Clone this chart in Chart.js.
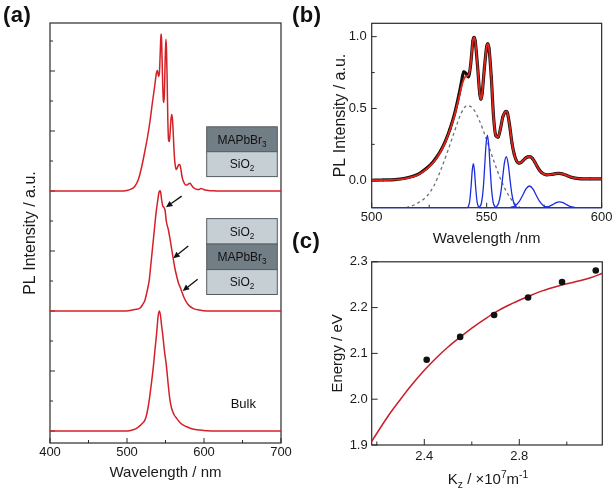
<!DOCTYPE html>
<html>
<head>
<meta charset="utf-8">
<script src="https://cdn.jsdelivr.net/npm/chart.js@4.4.1/dist/chart.umd.min.js"></script>
<style>
  body { margin: 0; background: #fff; }
  #fig { position: relative; width: 614px; height: 494px; font-family: 'Liberation Sans', Arial, sans-serif; }
  #fig canvas { position: absolute; }
  .tag { position: absolute; font-weight: bold; font-size: 22px; line-height: 1; color: #111; letter-spacing: 0.5px; }
</style>
</head>
<body>
<div id="fig">
  <canvas id="chartA" width="300" height="494" style="left:0;top:0"></canvas>
  <canvas id="chartB" width="314" height="250" style="left:300px;top:0"></canvas>
  <canvas id="chartC" width="314" height="244" style="left:300px;top:250px"></canvas>
  <div class="tag" style="left:3px;top:4px">(a)</div>
  <div class="tag" style="left:292px;top:4px">(b)</div>
  <div class="tag" style="left:292px;top:230px">(c)</div>
</div>
<script>
// ---- (a) PL spectra, intensity above each curve's own baseline ----
const topWave = [400,490,500,505,510,515,519,523,527,530,533,536,538,539.5,541,542,543,544,544.5,545,546,547,547.7,548.5,549.5,550.5,551.2,552,553,554,555,556,557,558,559,560,561,562,563,564,565,566,567.5,569,570,571,572,574,576,578,580,581.8,583,585,587,590,593,596,598,601,610,620,700];
const topPL = [0,0,0.02,0.06,0.15,0.4,0.8,1.3,1.85,2.35,2.95,3.5,3.9,4.02,3.82,3.9,4.5,5.15,5.23,5.0,3.9,3.1,2.95,3.2,4.3,5.06,4.8,3.9,2.4,1.7,1.65,1.95,2.35,2.55,2.4,1.95,1.4,1.0,0.8,0.72,0.75,0.82,0.88,0.85,0.72,0.55,0.42,0.28,0.2,0.2,0.24,0.26,0.23,0.15,0.1,0.06,0.05,0.08,0.07,0.03,0.01,0,0];

const midWave = [400,495,504,510,517,520,523.4,526,528.9,531,533.3,535.5,537.7,540,541.5,542.9,543.8,545,546.5,548,549.5,551,553.8,556,558.1,560,562,564.6,567,569,571.1,574,577.6,581,586.3,592,599,610,700];
const midPL = [0,0,0.02,0.05,0.1,0.2,0.37,0.65,1.03,1.55,2.14,2.7,3.26,3.7,3.95,4.01,3.95,3.7,3.5,3.45,3.35,3.0,2.7,2.38,2.05,1.75,1.45,1.15,0.92,0.8,0.65,0.45,0.28,0.17,0.08,0.04,0.01,0,0];

const bulkWave = [400,500,508,512.5,517,520,523.4,526,528.9,531.5,534.2,536.5,538.5,540.3,541.9,543.5,545,546.2,548.5,551.3,553.5,555.8,558,561,564.5,570,577.5,585,595,610,700];
const bulkPL = [0,0,0.04,0.09,0.18,0.26,0.37,0.6,1.03,1.55,2.14,2.75,3.26,3.8,4.0,3.85,3.5,3.26,2.7,2.14,1.55,1.03,0.75,0.55,0.42,0.25,0.14,0.07,0.03,0,0];

const offsetTop = 8, offsetMid = 4, offsetBulk = 0;
const aTicksX = [400, 500, 600, 700];

// ---- (b) measured spectrum, fit and components ----
const bWave = [500,505,510,514,518,520,522,524,526,528,530,532,534,536,538,539,540,541,542,543,544,544.5,545,546,547,547.5,548,549,550,550.5,551,552,553,554,555,556,557,558,558.5,559,560,561,562,563,564,565,566,567,568,569,570,571,572,573,574,576,578,580,581.5,583,585,587,590,595,600];
const bMeasured = [0,0.002,0.005,0.012,0.028,0.04,0.06,0.085,0.115,0.155,0.205,0.27,0.355,0.46,0.6,0.68,0.755,0.745,0.72,0.8,0.97,0.995,0.97,0.8,0.6,0.565,0.6,0.78,0.93,0.95,0.92,0.72,0.44,0.31,0.3,0.36,0.44,0.475,0.48,0.47,0.38,0.26,0.18,0.135,0.12,0.125,0.14,0.155,0.163,0.163,0.15,0.125,0.095,0.07,0.052,0.038,0.04,0.046,0.048,0.044,0.032,0.02,0.012,0.01,0.01];
const bFit = [0,0.001,0.004,0.01,0.025,0.037,0.056,0.08,0.11,0.15,0.2,0.265,0.35,0.45,0.58,0.65,0.7,0.725,0.73,0.8,0.97,0.995,0.97,0.8,0.6,0.565,0.6,0.78,0.93,0.95,0.92,0.72,0.44,0.31,0.3,0.36,0.44,0.475,0.48,0.47,0.38,0.26,0.18,0.135,0.12,0.125,0.14,0.155,0.163,0.163,0.15,0.125,0.095,0.07,0.052,0.038,0.04,0.046,0.048,0.044,0.032,0.02,0.012,0.01,0.01];

const broadWave = [515,518,521,524,527,530,533,536,539,541.5,544,547,550,553,556,559,562,564.5];
const broadPL = [-0.19,-0.175,-0.15,-0.11,-0.04,0.07,0.2,0.34,0.47,0.52,0.5,0.41,0.28,0.14,0.01,-0.09,-0.16,-0.19];

const peak1Wave = [500,541.6,542.0,542.6,543.2,543.7,544.2,544.7,545.2,545.8,546.4,546.8,600];
const peak1PL = [-0.19,-0.19,-0.183,-0.148,-0.047,0.064,0.115,0.064,-0.047,-0.148,-0.183,-0.19,-0.19];
const peak2Wave = [546.6,547.1,547.8,548.5,549.1,549.7,550.3,550.9,551.5,552.1,552.8,553.5,554.0];
const peak2PL = [-0.19,-0.182,-0.152,-0.059,0.088,0.244,0.315,0.244,0.088,-0.059,-0.152,-0.182,-0.19];
const peak3Wave = [553.7,554.3,555.2,556.1,556.9,557.7,558.5,559.3,560.1,560.9,561.8,562.7,563.3];
const peak3PL = [-0.19,-0.183,-0.158,-0.091,0.012,0.119,0.165,0.119,0.012,-0.091,-0.158,-0.183,-0.19];
const peak4Wave = [560,561.1,562.6,564.1,565.6,567.1,568.6,570.1,571.6,573.1,574.6,576.1,577.2];
const peak4PL = [-0.19,-0.186,-0.175,-0.149,-0.106,-0.06,-0.04,-0.06,-0.106,-0.149,-0.175,-0.186,-0.19];
const peak5Wave = [575,575.7,577.2,578.7,580.2,581.7,583.2,584.7,586.2,587.7,588.5];
const peak5PL = [-0.19,-0.187,-0.181,-0.17,-0.156,-0.15,-0.156,-0.17,-0.181,-0.187,-0.19];

const bTicksX = [500, 550, 600];
const bTicksY = [0, 0.5, 1.0];

// ---- (c) energy vs Kz ----
const kz = [2.41, 2.551, 2.694, 2.837, 2.98, 3.122];
const energy = [2.086, 2.136, 2.184, 2.222, 2.256, 2.281];
const fitKz = [2.1785,2.25,2.3,2.35,2.4,2.45,2.5,2.55,2.6,2.65,2.7,2.75,2.8,2.85,2.9,2.95,3.0,3.05,3.1,3.1495];
const fitE = [1.908,1.965,2.0,2.033,2.063,2.09,2.114,2.135,2.155,2.173,2.19,2.204,2.216,2.227,2.237,2.245,2.252,2.258,2.265,2.275];
const cTicksX = [2.4, 2.8];
const cTicksY = [1.9, 2.0, 2.1, 2.2, 2.3];

Chart.defaults.font.family = "'Liberation Sans', Arial, sans-serif";
Chart.defaults.color = '#1a1a1a';
const FONT = "'Liberation Sans', Arial, sans-serif";

function curve(xs, ys, color, width, offset = 0, extra = {}) {
  return Object.assign({
    data: xs.map((x, i) => ({ x: x, y: ys[i] + offset })),
    showLine: true,
    borderColor: color,
    borderWidth: width,
    pointRadius: 0,
    cubicInterpolationMode: 'monotone'
  }, extra);
}

// box round the plot plus inward tick marks (majors and minors)
function frameTicks(t) {
  return {
    id: 'frame',
    beforeDatasetsDraw(chart) {
      const { ctx, chartArea: a, scales: { x, y } } = chart;
      ctx.save();
      ctx.strokeStyle = '#2a2a2a';
      ctx.lineWidth = 1;
      ctx.beginPath();
      const xt = (vals, len) => vals.forEach(v => {
        const p = x.getPixelForValue(v);
        ctx.moveTo(p, a.bottom); ctx.lineTo(p, a.bottom - len);
      });
      const yt = (vals, len) => vals.forEach(v => {
        const p = y.getPixelForValue(v);
        ctx.moveTo(a.left, p); ctx.lineTo(a.left + len, p);
      });
      xt(t.xMajor, t.major); xt(t.xMinor, t.minor);
      yt(t.yMajor, t.major); yt(t.yMinor, t.minor);
      ctx.stroke();
      ctx.lineWidth = 1.2;
      ctx.strokeRect(a.left, a.top, a.right - a.left, a.bottom - a.top);
      ctx.restore();
    }
  };
}

// text with sub/superscripts, centred on (cx, cy)
function drawRich(ctx, parts, cx, cy, size, color) {
  const small = size * 0.68;
  let total = 0;
  parts.forEach(([txt, mode]) => {
    ctx.font = (mode ? small : size) + 'px ' + FONT;
    total += ctx.measureText(txt).width;
  });
  let x = cx - total / 2;
  const base = cy + size * 0.36;
  ctx.fillStyle = color || '#1a1a1a';
  ctx.textAlign = 'left';
  ctx.textBaseline = 'alphabetic';
  parts.forEach(([txt, mode]) => {
    ctx.font = (mode ? small : size) + 'px ' + FONT;
    const dy = mode === 1 ? size * 0.25 : mode === 2 ? -size * 0.42 : 0;
    ctx.fillText(txt, x, base + dy);
    x += ctx.measureText(txt).width;
  });
}

const DARK = '#727e85', LIGHT = '#c6d0d4';
const insetTop = [[10.14, 9.31, DARK, [['MAPbBr', 0], ['3', 1]]], [9.31, 8.48, LIGHT, [['SiO', 0], ['2', 1]]]];
const insetMid = [[7.08, 6.23, LIGHT, [['SiO', 0], ['2', 1]]], [6.23, 5.38, DARK, [['MAPbBr', 0], ['3', 1]]], [5.38, 4.55, LIGHT, [['SiO', 0], ['2', 1]]]];
const arrowsA = [[571, 7.83, 550.6, 7.46], [579.6, 6.17, 560.1, 5.76], [591.8, 5.06, 572.3, 4.67]];

const notesA = {
  id: 'notesA',
  afterDatasetsDraw(chart) {
    const { ctx, scales: { x, y } } = chart;
    ctx.save();
    const x1 = x.getPixelForValue(603.5), x2 = x.getPixelForValue(695.2);
    [insetTop, insetMid].forEach(stack => stack.forEach(([t, b, fill, label]) => {
      const yt = y.getPixelForValue(t), yb = y.getPixelForValue(b);
      ctx.fillStyle = fill;
      ctx.fillRect(x1, yt, x2 - x1, yb - yt);
      ctx.strokeStyle = '#555c60';
      ctx.lineWidth = 1;
      ctx.strokeRect(x1, yt, x2 - x1, yb - yt);
      drawRich(ctx, label, (x1 + x2) / 2, (yt + yb) / 2, 12, '#111');
    }));
    drawRich(ctx, [['Bulk', 0]], x.getPixelForValue(651), y.getPixelForValue(0.92), 13, '#111');
    arrowsA.forEach(([tx, ty, hx, hy]) => {
      const sx = x.getPixelForValue(tx), sy = y.getPixelForValue(ty);
      const ex = x.getPixelForValue(hx), ey = y.getPixelForValue(hy);
      const ang = Math.atan2(ey - sy, ex - sx);
      const L = 6.5, W = 3;
      const bx = ex - L * Math.cos(ang), by = ey - L * Math.sin(ang);
      ctx.strokeStyle = '#111';
      ctx.lineWidth = 1.3;
      ctx.beginPath(); ctx.moveTo(sx, sy); ctx.lineTo(bx, by); ctx.stroke();
      ctx.fillStyle = '#111';
      ctx.beginPath();
      ctx.moveTo(ex, ey);
      ctx.lineTo(bx + W * Math.sin(ang), by - W * Math.cos(ang));
      ctx.lineTo(bx - W * Math.sin(ang), by + W * Math.cos(ang));
      ctx.closePath(); ctx.fill();
    });
    ctx.restore();
  }
};

const titleC = {
  id: 'titleC',
  afterDraw(chart) {
    const { ctx, chartArea: a } = chart;
    ctx.save();
    drawRich(ctx, [['K', 0], ['z', 1], [' / \u00d710', 0], ['7', 2], ['m', 0], ['-1', 2]], (a.left + a.right) / 2 + 1, 229, 15);
    ctx.restore();
  }
};

const RED = '#d42027';
const noPlugins = { legend: { display: false }, tooltip: { enabled: false } };
const tickSet = vals => s => { s.ticks = vals.map(v => ({ value: v })); };
const noGrid = { display: false, drawTicks: false };

new Chart(document.getElementById('chartA'), {
  type: 'scatter',
  data: {
    datasets: [
      curve(topWave, topPL, RED, 1.5, offsetTop),
      curve(midWave, midPL, RED, 1.5, offsetMid),
      curve(bulkWave, bulkPL, RED, 1.5, offsetBulk)
    ]
  },
  options: {
    responsive: false,
    animation: false,
    layout: { padding: { top: 23, right: 19, left: 0, bottom: 0 } },
    plugins: noPlugins,
    scales: {
      x: {
        type: 'linear', min: 400, max: 700,
        grid: noGrid, border: { display: false },
        afterBuildTicks: tickSet(aTicksX),
        afterFit: s => { s.height = 51; },
        ticks: { font: { size: 13 }, padding: 2, maxRotation: 0, autoSkip: false },
        title: { display: true, text: 'Wavelength / nm', font: { size: 15 }, padding: { top: 0, bottom: 11.7 } }
      },
      y: {
        type: 'linear', min: -0.4, max: 13.6,
        grid: noGrid, border: { display: false },
        ticks: { display: false },
        afterFit: s => { s.width = 50; },
        title: { display: true, text: 'PL Intensity / a.u.', font: { size: 16 }, padding: { top: 21, bottom: 0 } }
      }
    }
  },
  plugins: [frameTicks({ xMajor: aTicksX, xMinor: [450, 550, 650], yMajor: [0, 2, 4, 6, 8, 10, 12], yMinor: [1, 3, 5, 7, 9, 11, 13], major: 5, minor: 3 }), notesA]
});

// Chart.js paints the first dataset on top, so the fit line comes first
const BLUE = '#1c2ce0';
const blueOpts = { clip: 3, cubicInterpolationMode: 'monotone' };
new Chart(document.getElementById('chartB'), {
  type: 'scatter',
  data: {
    datasets: [
      curve(bWave, bFit, '#e3241b', 1.8),
      curve(bWave, bMeasured, '#111111', 3.2, 0, { pointRadius: 1.4, pointBackgroundColor: '#111', pointBorderWidth: 0 }),
      curve(peak1Wave, peak1PL, BLUE, 1.3, 0, blueOpts),
      curve(peak2Wave, peak2PL, BLUE, 1.3, 0, blueOpts),
      curve(peak3Wave, peak3PL, BLUE, 1.3, 0, blueOpts),
      curve(peak4Wave, peak4PL, BLUE, 1.3, 0, blueOpts),
      curve(peak5Wave, peak5PL, BLUE, 1.3, 0, blueOpts),
      curve(broadWave, broadPL, '#66737e', 1.3, 0, { borderDash: [3, 3] })
    ]
  },
  options: {
    responsive: false,
    animation: false,
    layout: { padding: { top: 23.3, right: 11.7, left: 0, bottom: 0 } },
    plugins: noPlugins,
    scales: {
      x: {
        type: 'linear', min: 500, max: 600,
        grid: noGrid, border: { display: false },
        afterBuildTicks: tickSet(bTicksX),
        afterFit: s => { s.height = 42.3; },
        ticks: { font: { size: 13 }, padding: 1.5, maxRotation: 0, autoSkip: false },
        title: { display: true, text: 'Wavelength /nm', font: { size: 15 }, padding: { top: 0, bottom: 1.7 } }
      },
      y: {
        type: 'linear', min: -0.191, max: 1.093,
        grid: noGrid, border: { display: false },
        afterBuildTicks: tickSet(bTicksY),
        afterFit: s => { s.width = 71.7; },
        ticks: { font: { size: 13 }, padding: 5, callback: v => v.toFixed(1) },
        title: { display: true, text: 'PL Intensity / a.u.', font: { size: 16 }, padding: { top: 31, bottom: 0 } }
      }
    }
  },
  plugins: [frameTicks({ xMajor: bTicksX, xMinor: [525, 575], yMajor: bTicksY, yMinor: [0.25, 0.75], major: 5, minor: 3 })]
});

new Chart(document.getElementById('chartC'), {
  type: 'scatter',
  data: {
    datasets: [
      { data: kz.map((k, i) => ({ x: k, y: energy[i] })), pointRadius: 3.3, pointBackgroundColor: '#111', pointBorderWidth: 0 },
      curve(fitKz, fitE, '#c81e2a', 1.5)
    ]
  },
  options: {
    responsive: false,
    animation: false,
    layout: { padding: { top: 10, right: 11.7, left: 0, bottom: 0 } },
    plugins: noPlugins,
    scales: {
      x: {
        type: 'linear', min: 2.1785, max: 3.1495,
        grid: noGrid, border: { display: false },
        afterBuildTicks: tickSet(cTicksX),
        afterFit: s => { s.height = 49; },
        ticks: { font: { size: 13 }, padding: 4, maxRotation: 0, autoSkip: false, callback: v => v.toFixed(1) },
        title: { display: false }
      },
      y: {
        type: 'linear', min: 1.9, max: 2.3,
        grid: noGrid, border: { display: false },
        afterBuildTicks: tickSet(cTicksY),
        afterFit: s => { s.width = 71.7; },
        ticks: { font: { size: 13 }, padding: 4, callback: v => v.toFixed(1) },
        title: { display: true, text: 'Energy / eV', font: { size: 15 }, padding: { top: 29, bottom: 0 } }
      }
    }
  },
  plugins: [frameTicks({ xMajor: cTicksX, xMinor: [2.2, 2.6, 3.0], yMajor: cTicksY, yMinor: [], major: 6, minor: 3.5 }), titleC]
});
</script>
</body>
</html>
